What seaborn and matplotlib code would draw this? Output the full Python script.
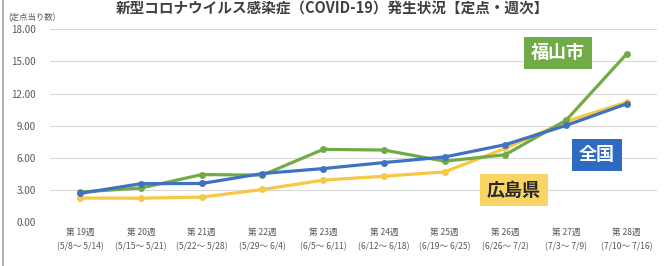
import matplotlib
matplotlib.use("Agg")
import matplotlib.pyplot as plt
from matplotlib.lines import Line2D
import seaborn as sns
import pandas as pd

weeks = ["第 19週\n(5/8～ 5/14)", "第 20週\n(5/15～ 5/21)", "第 21週\n(5/22～ 5/28)",
         "第 22週\n(5/29～ 6/4)", "第 23週\n(6/5～ 6/11)", "第 24週\n(6/12～ 6/18)",
         "第 25週\n(6/19～ 6/25)", "第 26週\n(6/26～ 7/2)", "第 27週\n(7/3～ 7/9)",
         "第 28週\n(7/10～ 7/16)"]
fukuyama = [2.82, 3.2, 4.45, 4.4, 6.8, 6.74, 5.7, 6.3, 9.5, 15.7]
hiroshima = [2.26, 2.25, 2.35, 3.06, 3.93, 4.3, 4.7, 6.9, 9.4, 11.2]
zenkoku = [2.7, 3.6, 3.62, 4.55, 5.01, 5.57, 6.09, 7.24, 9.03, 11.05]
series_names = ["広島県", "福山市", "全国"]
yticks = [0, 3, 6, 9, 12, 15, 18]

sns.set_theme(style="white")
plt.rcParams['font.family'] = ['Noto Sans CJK JP', 'DejaVu Sans']

rows = []
for name, vals in zip(series_names, [hiroshima, fukuyama, zenkoku]):
    for i, v in enumerate(vals):
        rows.append({"week": i, "value": v, "series": name})
df = pd.DataFrame(rows)

colors = {"広島県": "#F7C745", "福山市": "#71AB48", "全国": "#3F72C0"}

fig = plt.figure(figsize=(6.64, 2.66), dpi=100)
ax = fig.add_axes([50/664, 1 - 222.3/266, 607/664, 193/266])
sns.lineplot(data=df, x="week", y="value", hue="series", palette=colors,
             hue_order=series_names, marker="o", markersize=5, markeredgewidth=0,
             linewidth=2.3, ax=ax, legend=False)

ax.set_xlim(-0.5, 9.5)
ax.set_ylim(0, 18)
ax.set_yticks(yticks)
ax.set_yticklabels([f"{t:.2f}" for t in yticks], fontsize=7, color="#595959")
ax.set_xticks(range(len(weeks)))
ax.set_xticklabels(weeks, fontsize=6.2, color="#595959", linespacing=1.75)
ax.tick_params(axis='both', length=0, pad=4)
ax.tick_params(axis='y', pad=10)
ax.grid(axis='y', color="#D9D9D9", linewidth=0.8)
ax.set_axisbelow(True)
for s in ax.spines.values():
    s.set_visible(False)
ax.set_xlabel("")
ax.set_ylabel("")

fig.text(8/664, 1 - 18/266, "(定点当り数)", fontsize=6, color="#595959", va="center", ha="left")
fig.text(332/664, 1 - 1/266, "新型コロナウイルス感染症（COVID-19）発生状況【定点・週次】",
         fontsize=10.5, color="#404040", va="top", ha="center", fontweight="bold")

def label(x, y, text, fc, tc):
    fig.text(x/664, 1 - y/266, text, fontsize=13, color=tc, fontweight="bold",
             ha="center", va="center",
             bbox=dict(boxstyle="square,pad=0.38", fc=fc, ec="none"))

label(558, 53, "福山市", "#71AB48", "white")
label(597, 155, "全国", "#2E6BC0", "white")
label(514, 190, "広島県", "#F9D566", "#262626")

fig.add_artist(Line2D([3/664, 3/664], [0, 1], color="#A6A6A6", linewidth=1.2, transform=fig.transFigure))

fig.savefig("out.png", dpi=100)
